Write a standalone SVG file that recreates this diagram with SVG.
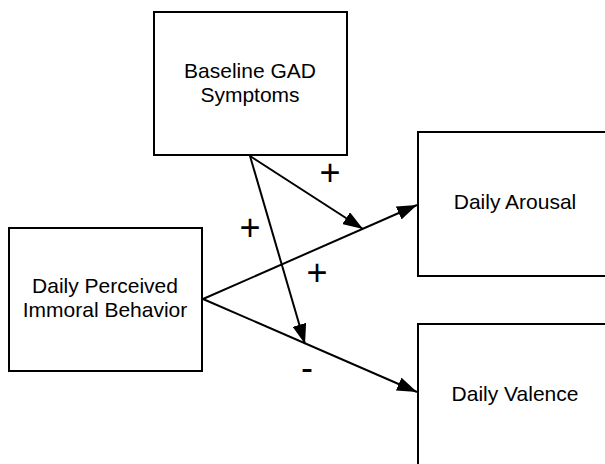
<svg xmlns="http://www.w3.org/2000/svg" width="605" height="464" viewBox="0 0 605 464">
<style>
.box{fill:#fff;stroke:#000;stroke-width:2}
.lbl{font-family:"Liberation Sans",Arial,sans-serif;font-size:21px;fill:#000;text-anchor:middle}
.sign{font-family:"Liberation Sans",Arial,sans-serif;font-size:36px;fill:#000;text-anchor:middle}
.edge{stroke:#000;stroke-width:2;fill:none;marker-end:url(#ah)}
</style>
<defs>
<marker id="ah" markerUnits="userSpaceOnUse" markerWidth="20" markerHeight="14" refX="20" refY="7" orient="auto" viewBox="0 0 20 14">
<path d="M0,0 L20,7 L0,14 z" fill="#000"/>
</marker>
</defs>
<rect width="605" height="464" fill="#fff"/>
<g id="connectors">
<line class="edge" x1="203" y1="299" x2="417" y2="205"/>
<line class="edge" x1="203" y1="299" x2="417" y2="392"/>
<line class="edge" x1="250" y1="156" x2="363" y2="229"/>
<line class="edge" x1="250" y1="156" x2="305" y2="344"/>
<text class="sign" x="330" y="185">+</text>
<text class="sign" x="250" y="240">+</text>
<text class="sign" x="317" y="285">+</text>
<text class="sign" x="307" y="380">-</text>
</g>
<g id="baseline">
<rect class="box" x="154" y="12" width="193" height="143"/>
<text class="lbl" x="250" y="78">Baseline GAD</text>
<text class="lbl" x="250" y="102">Symptoms</text>
</g>
<g id="immoral">
<rect class="box" x="9" y="228" width="193" height="143"/>
<text class="lbl" x="105" y="293">Daily Perceived</text>
<text class="lbl" x="105" y="317">Immoral Behavior</text>
</g>
<g id="arousal">
<rect class="box" x="418" y="132" width="195" height="144"/>
<text class="lbl" x="515" y="209">Daily Arousal</text>
</g>
<g id="valence">
<rect class="box" x="418" y="324" width="195" height="150"/>
<text class="lbl" x="515" y="401">Daily Valence</text>
</g>
</svg>
